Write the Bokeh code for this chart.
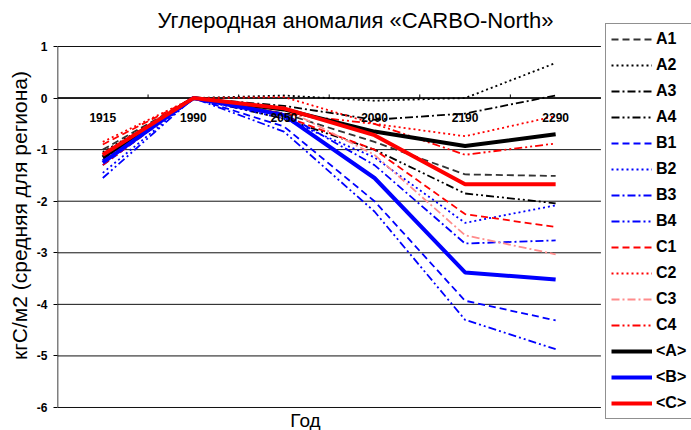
from bokeh.plotting import figure
from bokeh.models import (FactorRange, Range1d, Legend, LegendItem, Label,
                          FixedTicker, ColumnDataSource)
from bokeh.transform import dodge
from bokeh.embed import file_html
from bokeh.resources import INLINE

# ---- data ----
years = ["1915", "1990", "2050", "2090", "2190", "2290"]
A1 = [-1.00, 0.0, -0.30, -0.85, -1.48, -1.51]
A2 = [-1.05, 0.0, 0.05, -0.05, 0.00, 0.68]
A3 = [-1.10, 0.0, -0.15, -0.42, -0.30, 0.05]
A4 = [-1.20, 0.0, -0.40, -1.00, -1.85, -2.04]
B1 = [-1.30, 0.0, -0.55, -2.00, -3.93, -4.31]
B2 = [-1.45, 0.0, -0.40, -1.15, -2.42, -2.08]
B3 = [-1.20, 0.0, -0.30, -1.30, -2.82, -2.76]
B4 = [-1.55, 0.0, -0.65, -2.20, -4.30, -4.87]
C1 = [-0.90, 0.0, -0.35, -1.00, -2.25, -2.50]
C2 = [-0.85, 0.0, 0.02, -0.50, -0.74, -0.35]
C3 = [-1.25, 0.0, -0.20, -1.10, -2.66, -3.03]
C4 = [-1.30, 0.0, -0.30, -0.50, -1.10, -0.88]
A_mean = [-1.15, 0.0, -0.22, -0.65, -0.93, -0.70]
B_mean = [-1.25, 0.0, -0.33, -1.55, -3.38, -3.52]
C_mean = [-1.10, 0.0, -0.20, -0.72, -1.67, -1.67]
y_ticks = [1, 0, -1, -2, -3, -4, -5, -6]
y_tick_labels = {t: str(t) for t in y_ticks}

title_text = "Углеродная аномалия «CARBO-North»"
y_label = "кгС/м2 (средняя для региона)"
x_label = "Год"

FONT = "Liberation Sans"
BLANK = " "  # empty slot on the right, room for the legend

# frame covers the whole canvas right of the y axis; the value range is
# padded so that 1 .. -6 sits between the same pixels as in the reference
p = figure(width=691, height=430, x_range=FactorRange(*years, BLANK),
           y_range=Range1d(-6.446, 1.892), output_backend="svg",
           toolbar_location=None, min_border_left=57, min_border_right=0,
           min_border_top=0, min_border_bottom=0)
p.outline_line_color = None
p.background_fill_color = "white"
p.border_fill_color = "white"
p.xgrid.grid_line_color = None
p.ygrid.grid_line_color = None

# horizontal grid lines, limited to the data categories
grid_src = ColumnDataSource(dict(y=y_ticks, x0=[years[0]] * len(y_ticks),
                                 x1=[years[-1]] * len(y_ticks)))
p.segment(x0=dodge("x0", -0.5, range=p.x_range), y0="y",
          x1=dodge("x1", 0.5, range=p.x_range), y1="y",
          source=grid_src, line_color="#111111", line_width=1)
# y axis line from -6 to 1
vline_src = ColumnDataSource(dict(x=[years[0]], y0=[y_ticks[-1]], y1=[y_ticks[0]]))
p.segment(x0=dodge("x", -0.5, range=p.x_range), y0="y0",
          x1=dodge("x", -0.5, range=p.x_range), y1="y1",
          source=vline_src, line_color="black", line_width=1.5)
# x axis line at 0
xline_src = ColumnDataSource(dict(x0=[years[0]], x1=[years[-1]], y=[0]))
p.segment(x0=dodge("x0", -0.5, range=p.x_range), y0="y",
          x1=dodge("x1", 0.5, range=p.x_range), y1="y",
          source=xline_src, line_color="black", line_width=1.5)
# boundary tick marks on the category axis
tick_src = ColumnDataSource(dict(yr=years[1:], y0=[0] * 5, y1=[0.07] * 5))
p.segment(x0=dodge("yr", -0.5, range=p.x_range), y0="y0",
          x1=dodge("yr", -0.5, range=p.x_range), y1="y1",
          source=tick_src, line_color="black", line_width=1)

# y axis (labels and ticks only)
p.yaxis.ticker = FixedTicker(ticks=y_ticks)
p.yaxis.major_label_overrides = y_tick_labels
p.yaxis.axis_line_color = None
p.yaxis.major_tick_line_color = "black"
p.yaxis.major_tick_out = 4
p.yaxis.major_tick_in = 0
p.yaxis.minor_tick_line_color = None
p.yaxis.major_label_text_font = FONT
p.yaxis.major_label_text_font_style = "bold"
p.yaxis.major_label_text_font_size = "12px"
p.yaxis.major_label_text_color = "black"
p.yaxis.major_label_standoff = 6
p.yaxis.axis_label = y_label
p.yaxis.axis_label_text_font = FONT
p.yaxis.axis_label_text_font_style = "normal"
p.yaxis.axis_label_text_font_size = "21px"
p.yaxis.axis_label_text_color = "black"
p.yaxis.axis_label_standoff = 3

# category labels below the zero line
p.xaxis.fixed_location = 0
p.xaxis.axis_line_color = None
p.xaxis.major_tick_line_color = None
p.xaxis.major_label_text_font = FONT
p.xaxis.major_label_text_font_style = "bold"
p.xaxis.major_label_text_font_size = "12px"
p.xaxis.major_label_text_color = "black"
p.xaxis.major_label_standoff = 7

BLUE = "#0000ff"
RED = "#ff0000"
styles = [
    ("A1", A1, "#333333", "7 4", 1.8),
    ("A2", A2, "black", "2 3", 1.8),
    ("A3", A3, "black", "8 3 2 3", 1.8),
    ("A4", A4, "black", "8 3 2 3 2 3", 1.8),
    ("B1", B1, BLUE, "7 4", 1.8),
    ("B2", B2, BLUE, "2 3", 1.8),
    ("B3", B3, BLUE, "8 3 2 3", 1.8),
    ("B4", B4, BLUE, "8 3 2 3 2 3", 1.8),
    ("C1", C1, RED, "7 4", 1.8),
    ("C2", C2, RED, "2 3", 1.8),
    ("C3", C3, "#ff8c8c", "8 3 2 3", 1.8),
    ("C4", C4, RED, "8 3 2 3 2 3", 1.8),
    ("<A>", A_mean, "black", "solid", 4),
    ("<B>", B_mean, BLUE, "solid", 4),
    ("<C>", C_mean, RED, "solid", 4),
]

items = []
for name, vals, color, dash, width in styles:
    r = p.line(x=years, y=vals, line_color=color, line_dash=dash,
               line_width=width)
    items.append(LegendItem(label=name, renderers=[r]))

legend = Legend(items=items, location=(548, 11), orientation="vertical",
                glyph_width=41, glyph_height=20, label_height=20,
                spacing=6, padding=5, margin=0, label_standoff=4,
                label_text_font=FONT, label_text_font_style="bold",
                label_text_font_size="16px", label_text_color="black",
                border_line_color="#222222", border_line_width=1,
                background_fill_color="white", background_fill_alpha=1)
p.add_layout(legend, "center")

p.add_layout(Label(x=298, y=410, x_units="screen", y_units="screen",
                   text=title_text, text_align="center",
                   text_baseline="middle", text_font=FONT,
                   text_font_size="22px", text_color="black"))
p.add_layout(Label(x=248, y=10, x_units="screen", y_units="screen",
                   text=x_label, text_align="center",
                   text_baseline="middle", text_font=FONT,
                   text_font_size="19px", text_color="black"))

open("out.html", "w").write(file_html(p, INLINE))
